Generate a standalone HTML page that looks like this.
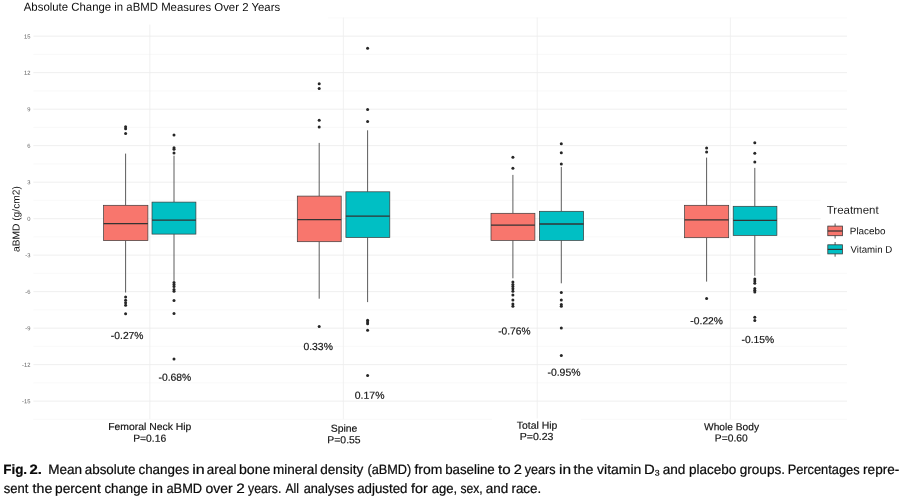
<!DOCTYPE html>
<html lang="en"><head><meta charset="utf-8"><title>Fig. 2</title>
<style>html,body{margin:0;padding:0;background:#fff;}body{width:902px;height:499px;overflow:hidden;}svg{display:block;}text{font-family:"Liberation Sans",Arial,Helvetica,sans-serif;}</style>
</head><body>
<svg width="902" height="499" viewBox="0 0 902 499">
<rect x="0" y="0" width="902" height="499" fill="#fff"/>
<g stroke="#f5f5f5" stroke-width="0.6" fill="none">
<line x1="33.4" x2="847.0" y1="419.37" y2="419.37"/>
<line x1="33.4" x2="847.0" y1="382.88" y2="382.88"/>
<line x1="33.4" x2="847.0" y1="346.38" y2="346.38"/>
<line x1="33.4" x2="847.0" y1="309.89" y2="309.89"/>
<line x1="33.4" x2="847.0" y1="273.39" y2="273.39"/>
<line x1="33.4" x2="847.0" y1="236.90" y2="236.90"/>
<line x1="33.4" x2="847.0" y1="200.40" y2="200.40"/>
<line x1="33.4" x2="847.0" y1="163.91" y2="163.91"/>
<line x1="33.4" x2="847.0" y1="127.41" y2="127.41"/>
<line x1="33.4" x2="847.0" y1="90.92" y2="90.92"/>
<line x1="33.4" x2="847.0" y1="54.42" y2="54.42"/>
<line x1="33.4" x2="847.0" y1="17.93" y2="17.93"/>
</g>
<g stroke="#ededed" stroke-width="0.9" fill="none">
<line x1="33.4" x2="847.0" y1="401.12" y2="401.12"/>
<line x1="33.4" x2="847.0" y1="364.63" y2="364.63"/>
<line x1="33.4" x2="847.0" y1="328.13" y2="328.13"/>
<line x1="33.4" x2="847.0" y1="291.64" y2="291.64"/>
<line x1="33.4" x2="847.0" y1="255.15" y2="255.15"/>
<line x1="33.4" x2="847.0" y1="218.65" y2="218.65"/>
<line x1="33.4" x2="847.0" y1="182.16" y2="182.16"/>
<line x1="33.4" x2="847.0" y1="145.66" y2="145.66"/>
<line x1="33.4" x2="847.0" y1="109.17" y2="109.17"/>
<line x1="33.4" x2="847.0" y1="72.67" y2="72.67"/>
<line x1="33.4" x2="847.0" y1="36.18" y2="36.18"/>
<line x1="149.8" x2="149.8" y1="17.6" y2="419.2" stroke-width="0.8"/>
<line x1="343.4" x2="343.4" y1="17.6" y2="419.2" stroke-width="0.8"/>
<line x1="537.2" x2="537.2" y1="17.6" y2="419.2" stroke-width="0.8"/>
<line x1="730.4" x2="730.4" y1="17.6" y2="419.2" stroke-width="0.8"/>
</g>
<rect x="0" y="0" width="328" height="24.6" fill="#fff"/>
<rect x="820.6" y="190" width="82" height="76" fill="#fff"/>
<rect x="492" y="418.4" width="89" height="2" fill="#fff"/>
<g font-size="5.8" fill="#5e5e5e" text-anchor="end">
<text transform="translate(30.4,403.32) rotate(0.03)">-15</text>
<text transform="translate(30.4,366.83) rotate(0.03)">-12</text>
<text transform="translate(30.4,330.33) rotate(0.03)">-9</text>
<text transform="translate(30.4,293.84) rotate(0.03)">-6</text>
<text transform="translate(30.4,257.35) rotate(0.03)">-3</text>
<text transform="translate(30.4,220.85) rotate(0.03)">0</text>
<text transform="translate(30.4,184.35) rotate(0.03)">3</text>
<text transform="translate(30.4,147.86) rotate(0.03)">6</text>
<text transform="translate(30.4,111.37) rotate(0.03)">9</text>
<text transform="translate(30.4,74.87) rotate(0.03)">12</text>
<text transform="translate(30.4,38.38) rotate(0.03)">15</text>
</g>
<g>
<line x1="125.6" x2="125.6" y1="153.6" y2="205.3" stroke="#4a4a4a" stroke-width="0.9"/>
<line x1="125.6" x2="125.6" y1="240.6" y2="292.5" stroke="#4a4a4a" stroke-width="0.9"/>
<rect x="103.6" y="205.3" width="44.3" height="35.3" fill="#F8766D" stroke="#3a3a3a" stroke-width="0.7"/>
<line x1="103.6" x2="147.9" y1="223.6" y2="223.6" stroke="#333" stroke-width="1.3"/>
<circle cx="125.6" cy="126.8" r="1.5" fill="#262626"/>
<circle cx="125.6" cy="128.8" r="1.5" fill="#262626"/>
<circle cx="125.6" cy="133.5" r="1.5" fill="#262626"/>
<circle cx="125.6" cy="297.1" r="1.5" fill="#262626"/>
<circle cx="125.6" cy="300.3" r="1.5" fill="#262626"/>
<circle cx="125.6" cy="302.8" r="1.5" fill="#262626"/>
<circle cx="125.6" cy="305.3" r="1.5" fill="#262626"/>
<circle cx="125.6" cy="313.7" r="1.5" fill="#262626"/>
</g>
<g>
<line x1="174.0" x2="174.0" y1="155.7" y2="202.1" stroke="#4a4a4a" stroke-width="0.9"/>
<line x1="174.0" x2="174.0" y1="234.1" y2="280.8" stroke="#4a4a4a" stroke-width="0.9"/>
<rect x="152.0" y="202.1" width="43.9" height="32.0" fill="#00BFC4" stroke="#3a3a3a" stroke-width="0.7"/>
<line x1="152.0" x2="195.9" y1="220.1" y2="220.1" stroke="#333" stroke-width="1.3"/>
<circle cx="174.0" cy="135.1" r="1.5" fill="#262626"/>
<circle cx="174.0" cy="147.8" r="1.5" fill="#262626"/>
<circle cx="174.0" cy="149.3" r="1.5" fill="#262626"/>
<circle cx="174.0" cy="153.1" r="1.5" fill="#262626"/>
<circle cx="174.0" cy="282.5" r="1.5" fill="#262626"/>
<circle cx="174.0" cy="284.6" r="1.5" fill="#262626"/>
<circle cx="174.0" cy="286.6" r="1.5" fill="#262626"/>
<circle cx="174.0" cy="289.5" r="1.5" fill="#262626"/>
<circle cx="174.0" cy="291.3" r="1.5" fill="#262626"/>
<circle cx="174.0" cy="300.4" r="1.5" fill="#262626"/>
<circle cx="174.0" cy="313.4" r="1.5" fill="#262626"/>
<circle cx="174.0" cy="359.1" r="1.5" fill="#262626"/>
</g>
<g>
<line x1="319.2" x2="319.2" y1="142.9" y2="196.1" stroke="#4a4a4a" stroke-width="0.9"/>
<line x1="319.2" x2="319.2" y1="241.7" y2="298.7" stroke="#4a4a4a" stroke-width="0.9"/>
<rect x="297.3" y="196.1" width="43.9" height="45.6" fill="#F8766D" stroke="#3a3a3a" stroke-width="0.7"/>
<line x1="297.3" x2="341.2" y1="219.6" y2="219.6" stroke="#333" stroke-width="1.3"/>
<circle cx="319.2" cy="83.7" r="1.5" fill="#262626"/>
<circle cx="319.2" cy="88.5" r="1.5" fill="#262626"/>
<circle cx="319.2" cy="120.3" r="1.5" fill="#262626"/>
<circle cx="319.2" cy="127.1" r="1.5" fill="#262626"/>
<circle cx="319.2" cy="326.5" r="1.5" fill="#262626"/>
</g>
<g>
<line x1="367.6" x2="367.6" y1="130.3" y2="191.8" stroke="#4a4a4a" stroke-width="0.9"/>
<line x1="367.6" x2="367.6" y1="237.5" y2="302.1" stroke="#4a4a4a" stroke-width="0.9"/>
<rect x="345.9" y="191.8" width="43.9" height="45.7" fill="#00BFC4" stroke="#3a3a3a" stroke-width="0.7"/>
<line x1="345.9" x2="389.8" y1="216.1" y2="216.1" stroke="#333" stroke-width="1.3"/>
<circle cx="367.6" cy="48.3" r="1.5" fill="#262626"/>
<circle cx="367.6" cy="109.5" r="1.5" fill="#262626"/>
<circle cx="367.6" cy="121.5" r="1.5" fill="#262626"/>
<circle cx="367.6" cy="320.2" r="1.5" fill="#262626"/>
<circle cx="367.6" cy="322.0" r="1.5" fill="#262626"/>
<circle cx="367.6" cy="323.7" r="1.5" fill="#262626"/>
<circle cx="367.6" cy="330.3" r="1.5" fill="#262626"/>
<circle cx="367.6" cy="375.4" r="1.5" fill="#262626"/>
</g>
<g>
<line x1="512.9" x2="512.9" y1="174.9" y2="213.3" stroke="#4a4a4a" stroke-width="0.9"/>
<line x1="512.9" x2="512.9" y1="240.4" y2="278.3" stroke="#4a4a4a" stroke-width="0.9"/>
<rect x="491.0" y="213.3" width="43.9" height="27.1" fill="#F8766D" stroke="#3a3a3a" stroke-width="0.7"/>
<line x1="491.0" x2="534.9" y1="225.1" y2="225.1" stroke="#333" stroke-width="1.3"/>
<circle cx="512.9" cy="157.3" r="1.5" fill="#262626"/>
<circle cx="512.9" cy="168.3" r="1.5" fill="#262626"/>
<circle cx="512.9" cy="282" r="1.5" fill="#262626"/>
<circle cx="512.9" cy="284.6" r="1.5" fill="#262626"/>
<circle cx="512.9" cy="286.6" r="1.5" fill="#262626"/>
<circle cx="512.9" cy="288.8" r="1.5" fill="#262626"/>
<circle cx="512.9" cy="291.3" r="1.5" fill="#262626"/>
<circle cx="512.9" cy="295" r="1.5" fill="#262626"/>
<circle cx="512.9" cy="300" r="1.5" fill="#262626"/>
<circle cx="512.9" cy="304.1" r="1.5" fill="#262626"/>
<circle cx="512.9" cy="306.3" r="1.5" fill="#262626"/>
</g>
<g>
<line x1="561.3" x2="561.3" y1="166.9" y2="211.3" stroke="#4a4a4a" stroke-width="0.9"/>
<line x1="561.3" x2="561.3" y1="240.4" y2="283.3" stroke="#4a4a4a" stroke-width="0.9"/>
<rect x="539.4" y="211.3" width="44.2" height="29.1" fill="#00BFC4" stroke="#3a3a3a" stroke-width="0.7"/>
<line x1="539.4" x2="583.6" y1="224.0" y2="224.0" stroke="#333" stroke-width="1.3"/>
<circle cx="561.3" cy="143.8" r="1.5" fill="#262626"/>
<circle cx="561.3" cy="152.8" r="1.5" fill="#262626"/>
<circle cx="561.3" cy="164.1" r="1.5" fill="#262626"/>
<circle cx="561.3" cy="292.5" r="1.5" fill="#262626"/>
<circle cx="561.3" cy="300" r="1.5" fill="#262626"/>
<circle cx="561.3" cy="304.6" r="1.5" fill="#262626"/>
<circle cx="561.3" cy="306.3" r="1.5" fill="#262626"/>
<circle cx="561.3" cy="327.9" r="1.5" fill="#262626"/>
<circle cx="561.3" cy="355.5" r="1.5" fill="#262626"/>
</g>
<g>
<line x1="706.6" x2="706.6" y1="157.6" y2="205.3" stroke="#4a4a4a" stroke-width="0.9"/>
<line x1="706.6" x2="706.6" y1="237.7" y2="281.6" stroke="#4a4a4a" stroke-width="0.9"/>
<rect x="684.6" y="205.3" width="44.1" height="32.4" fill="#F8766D" stroke="#3a3a3a" stroke-width="0.7"/>
<line x1="684.6" x2="728.7" y1="219.8" y2="219.8" stroke="#333" stroke-width="1.3"/>
<circle cx="706.6" cy="147.9" r="1.5" fill="#262626"/>
<circle cx="706.6" cy="152.1" r="1.5" fill="#262626"/>
<circle cx="706.6" cy="298.6" r="1.5" fill="#262626"/>
</g>
<g>
<line x1="754.8" x2="754.8" y1="167.9" y2="206.3" stroke="#4a4a4a" stroke-width="0.9"/>
<line x1="754.8" x2="754.8" y1="235.4" y2="275.8" stroke="#4a4a4a" stroke-width="0.9"/>
<rect x="733.2" y="206.3" width="43.7" height="29.1" fill="#00BFC4" stroke="#3a3a3a" stroke-width="0.7"/>
<line x1="733.2" x2="776.9" y1="220.4" y2="220.4" stroke="#333" stroke-width="1.3"/>
<circle cx="754.8" cy="142.8" r="1.5" fill="#262626"/>
<circle cx="754.8" cy="153.3" r="1.5" fill="#262626"/>
<circle cx="754.8" cy="162.1" r="1.5" fill="#262626"/>
<circle cx="754.8" cy="279.1" r="1.5" fill="#262626"/>
<circle cx="754.8" cy="281.1" r="1.5" fill="#262626"/>
<circle cx="754.8" cy="283.3" r="1.5" fill="#262626"/>
<circle cx="754.8" cy="288.6" r="1.5" fill="#262626"/>
<circle cx="754.8" cy="290.3" r="1.5" fill="#262626"/>
<circle cx="754.8" cy="292.1" r="1.5" fill="#262626"/>
<circle cx="754.8" cy="317.3" r="1.5" fill="#262626"/>
<circle cx="754.8" cy="320.4" r="1.5" fill="#262626"/>
</g>
<g font-size="10.2" fill="#141414" stroke="#141414" stroke-width="0.18">
<text transform="translate(110.85,339.0) rotate(0.03) scale(1.0123,1)">-0.27%</text>
<text transform="translate(158.54,380.8) rotate(0.03) scale(1.0155,1)">-0.68%</text>
<text transform="translate(303.39,350.0) rotate(0.03) scale(1.0225,1)">0.33%</text>
<text transform="translate(354.79,398.7) rotate(0.03) scale(1.0260,1)">0.17%</text>
<text transform="translate(498.15,334.5) rotate(0.03) scale(1.0028,1)">-0.76%</text>
<text transform="translate(547.44,375.7) rotate(0.03) scale(1.0250,1)">-0.95%</text>
<text transform="translate(690.35,324.3) rotate(0.03) scale(1.0123,1)">-0.22%</text>
<text transform="translate(741.55,343.0) rotate(0.03) scale(1.0123,1)">-0.15%</text>
</g>
<g font-size="10.2" fill="#141414" stroke="#141414" stroke-width="0.18">
<text transform="translate(108.15,430.0) rotate(0.03) scale(1.0204,1)">Femoral Neck Hip</text>
<text transform="translate(133.15,441.7) rotate(0.03) scale(1.0118,1)">P=0.16</text>
<text transform="translate(330.73,431.7) rotate(0.03) scale(1.0247,1)">Spine</text>
<text transform="translate(327.35,443.3) rotate(0.03) scale(1.0207,1)">P=0.55</text>
<text transform="translate(516.77,428.8) rotate(0.03) scale(1.0221,1)">Total Hip</text>
<text transform="translate(519.63,439.9) rotate(0.03) scale(1.0406,1)">P=0.23</text>
<text transform="translate(704.06,430.3) rotate(0.03) scale(0.9993,1)">Whole Body</text>
<text transform="translate(714.86,441.6) rotate(0.03) scale(1.0070,1)">P=0.60</text>
</g>
<text transform="translate(23.78,10.8) rotate(0.03) scale(0.9912,1)" font-size="11.5" fill="#0d0d0d">Absolute Change in aBMD Measures Over 2 Years</text>
<text transform="translate(19.5,252.03) rotate(-90.03) scale(1.0133,1)" font-size="10.1" fill="#111">aBMD (g/cm2)</text>
<text transform="translate(826.75,213.7) rotate(0.03) scale(1.0079,1)" font-size="11.4" fill="#1a1a1a">Treatment</text>
<line x1="835.1" x2="835.1" y1="223.5" y2="238.5" stroke="#444" stroke-width="0.9"/>
<rect x="827.8" y="226.1" width="14.6" height="9.6" fill="#F8766D" stroke="#3a3a3a" stroke-width="0.8"/>
<line x1="827.8" x2="842.4" y1="231.0" y2="231.0" stroke="#333" stroke-width="1.2"/>
<text transform="translate(849.79,234.3) rotate(0.03) scale(1.0327,1)" font-size="9.6" fill="#111">Placebo</text>
<line x1="835.1" x2="835.1" y1="242.0" y2="256.7" stroke="#444" stroke-width="0.9"/>
<rect x="827.8" y="244.8" width="14.6" height="9.1" fill="#00BFC4" stroke="#3a3a3a" stroke-width="0.8"/>
<line x1="827.8" x2="842.4" y1="249.4" y2="249.4" stroke="#333" stroke-width="1.2"/>
<text transform="translate(850.56,252.8) rotate(0.03) scale(1.0063,1)" font-size="9.6" fill="#111">Vitamin D</text>
<g font-size="13.6" fill="#0a0a0a" stroke="#0a0a0a" stroke-width="0.22">
<text transform="translate(3.20,474.1) rotate(0.03) scale(0.9896,1)" font-weight="bold">Fig.</text>
<text transform="translate(29.39,474.1) rotate(0.03) scale(1.0972,1)" font-weight="bold">2.</text>
<text transform="translate(48.19,474.1) rotate(0.03) scale(0.9960,1)">Mean</text>
<text transform="translate(84.74,474.1) rotate(0.03) scale(0.9872,1)">absolute</text>
<text transform="translate(138.44,474.1) rotate(0.03) scale(0.9869,1)">changes</text>
<text transform="translate(192.13,474.1) rotate(0.03) scale(1.1819,1)">in</text>
<text transform="translate(206.74,474.1) rotate(0.03) scale(0.9873,1)">areal</text>
<text transform="translate(238.89,474.1) rotate(0.03) scale(1.0422,1)">bone</text>
<text transform="translate(273.11,474.1) rotate(0.03) scale(0.9933,1)">mineral</text>
<text transform="translate(320.24,474.1) rotate(0.03) scale(0.9975,1)">density</text>
<text transform="translate(367.51,474.1) rotate(0.03) scale(0.9345,1)">(aBMD)</text>
<text transform="translate(414.50,474.1) rotate(0.03) scale(1.0261,1)">from</text>
<text transform="translate(445.15,474.1) rotate(0.03) scale(0.9799,1)">baseline</text>
<text transform="translate(497.97,474.1) rotate(0.03) scale(1.1159,1)">to</text>
<text transform="translate(513.67,474.1) rotate(0.03) scale(1.0804,1)">2</text>
<text transform="translate(524.77,474.1) rotate(0.03) scale(0.9285,1)">years</text>
<text transform="translate(558.97,474.1) rotate(0.03) scale(1.1365,1)">in</text>
<text transform="translate(573.59,474.1) rotate(0.03) scale(1.0496,1)">the</text>
<text transform="translate(597.06,474.1) rotate(0.03) scale(1.0270,1)">vitamin</text>
<text transform="translate(643.98,474.1) rotate(0.03) scale(1.0921,1)">D<tspan font-size="8" dy="1.5">3</tspan></text>
<text transform="translate(662.63,474.1) rotate(0.03) scale(1.0024,1)">and</text>
<text transform="translate(688.94,474.1) rotate(0.03) scale(0.9934,1)">placebo</text>
<text transform="translate(739.74,474.1) rotate(0.03) scale(0.9986,1)">groups.</text>
<text transform="translate(787.65,474.1) rotate(0.03) scale(0.9430,1)">Percentages</text>
<text transform="translate(863.10,474.1) rotate(0.03) scale(0.9976,1)">repre-</text>
<text transform="translate(3.84,492.9) rotate(0.03) scale(0.9587,1)">sent</text>
<text transform="translate(32.59,492.9) rotate(0.03) scale(1.0441,1)">the</text>
<text transform="translate(55.02,492.9) rotate(0.03) scale(1.0091,1)">percent</text>
<text transform="translate(104.44,492.9) rotate(0.03) scale(0.9759,1)">change</text>
<text transform="translate(151.84,492.9) rotate(0.03) scale(1.0569,1)">in</text>
<text transform="translate(166.46,492.9) rotate(0.03) scale(0.9436,1)">aBMD</text>
<text transform="translate(205.62,492.9) rotate(0.03) scale(1.0245,1)">over</text>
<text transform="translate(236.23,492.9) rotate(0.03) scale(1.1287,1)">2</text>
<text transform="translate(248.08,492.9) rotate(0.03) scale(0.9001,1)">years.</text>
<text transform="translate(285.48,492.9) rotate(0.03) scale(0.8953,1)">All</text>
<text transform="translate(303.66,492.9) rotate(0.03) scale(0.9388,1)">analyses</text>
<text transform="translate(357.24,492.9) rotate(0.03) scale(0.9765,1)">adjusted</text>
<text transform="translate(411.00,492.9) rotate(0.03) scale(1.0546,1)">for</text>
<text transform="translate(431.65,492.9) rotate(0.03) scale(0.9604,1)">age,</text>
<text transform="translate(460.47,492.9) rotate(0.03) scale(0.8910,1)">sex,</text>
<text transform="translate(485.83,492.9) rotate(0.03) scale(0.9929,1)">and</text>
<text transform="translate(511.42,492.9) rotate(0.03) scale(0.9856,1)">race.</text>
</g>
</svg>
</body></html>
